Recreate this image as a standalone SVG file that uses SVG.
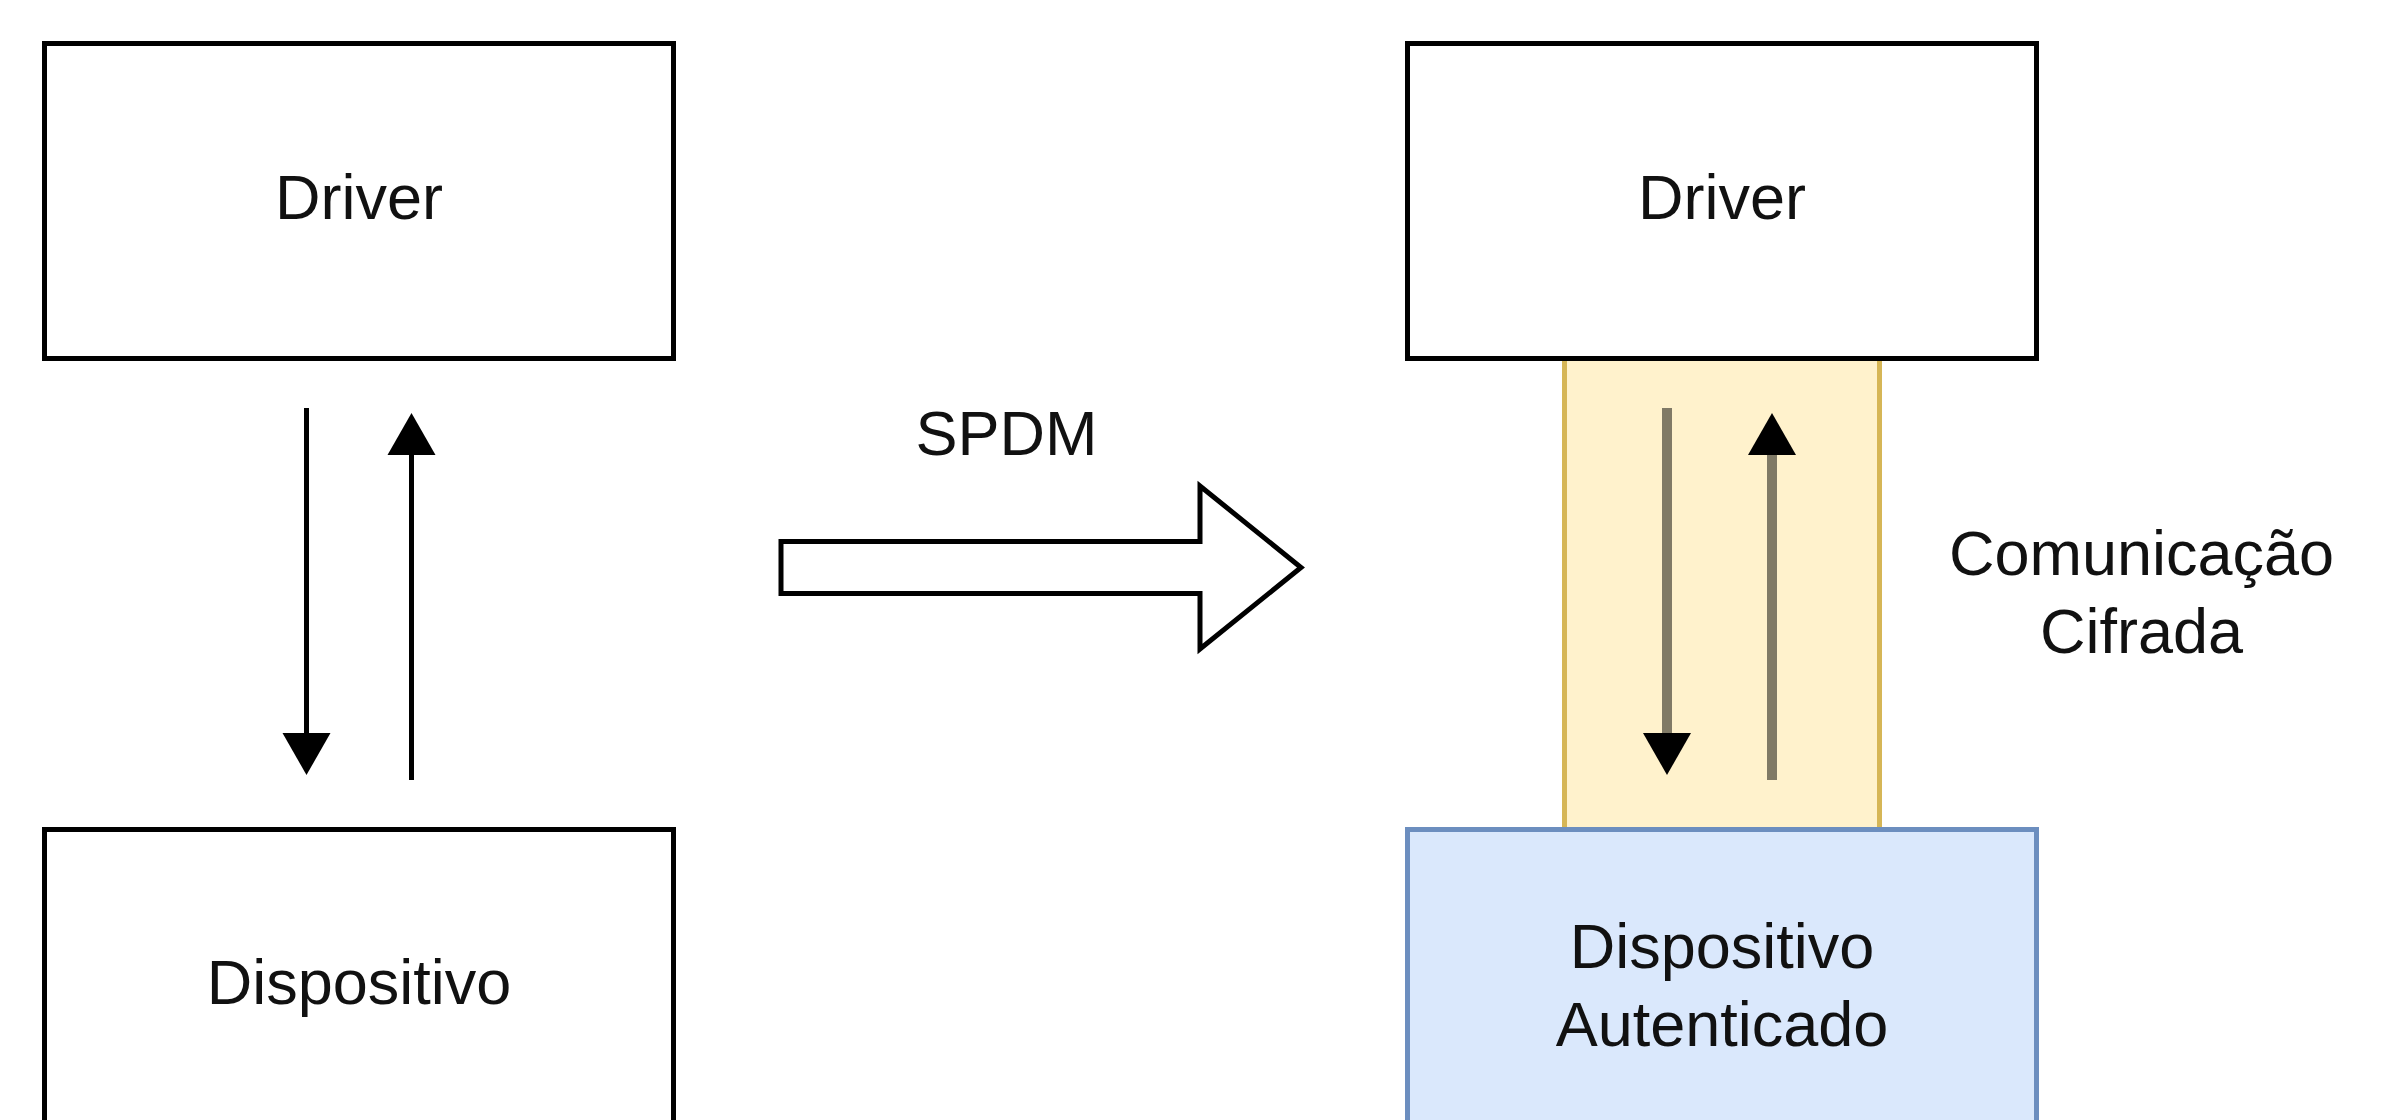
<svg xmlns="http://www.w3.org/2000/svg" width="2384" height="1120" viewBox="0 0 2384 1120">
  <style>
    .box { fill: #ffffff; stroke: #000000; stroke-width: 5; }
    .band { fill: #fff2cc; stroke: #d6b656; stroke-width: 5; }
    .auth { fill: #dae8fc; stroke: #6c8ebf; stroke-width: 5; }
    .lbl { font-family: "Liberation Sans", Arial, sans-serif; font-size: 63px; fill: #111111; text-anchor: middle; }
    .link { fill: none; stroke: #000000; stroke-width: 5; }
    .link.enc { stroke: #807a66; stroke-width: 10; }
    .big { fill: #ffffff; stroke: #000000; stroke-width: 5; stroke-linejoin: miter; }
  </style>
  <defs>
    <marker id="head" viewBox="0 -26 42 52" refX="1" refY="0" markerWidth="42" markerHeight="52" markerUnits="userSpaceOnUse" orient="auto">
      <path d="M0,-24 L42,0 L0,24 Z" fill="#000000"/>
    </marker>
  </defs>

  <!-- encrypted channel background between the right-hand nodes -->
  <g id="canal-cifrado">
    <rect class="band" x="1564.5" y="358.5" width="315" height="471"/>
  </g>

  <!-- left side: plain driver/device -->
  <g id="driver-esq">
    <rect class="box" x="44.5" y="43.5" width="629" height="315"/>
    <text class="lbl" x="359" y="219">Driver</text>
  </g>
  <g id="dispositivo-esq">
    <rect class="box" x="44.5" y="829.5" width="629" height="315"/>
    <text class="lbl" x="359" y="1004">Dispositivo</text>
  </g>

  <!-- right side: driver and authenticated device -->
  <g id="driver-dir">
    <rect class="box" x="1407.5" y="43.5" width="629" height="315"/>
    <text class="lbl" x="1722" y="219">Driver</text>
  </g>
  <g id="dispositivo-autenticado">
    <rect class="auth" x="1407.5" y="829.5" width="629" height="315"/>
    <text class="lbl" x="1722" y="968">Dispositivo</text>
    <text class="lbl" x="1722" y="1046">Autenticado</text>
  </g>

  <!-- SPDM transition arrow -->
  <g id="spdm">
    <polygon class="big" points="781,541.5 1200,541.5 1200,486 1301,567.5 1200,649 1200,593.5 781,593.5"/>
    <text class="lbl" x="1006.5" y="455">SPDM</text>
  </g>

  <g id="rotulo-canal">
    <text class="lbl" x="2141.5" y="575">Comunicação</text>
    <text class="lbl" x="2141.5" y="653">Cifrada</text>
  </g>

  <!-- request/response connectors -->
  <g id="connectors">
    <line class="link" x1="306.5" y1="408" x2="306.5" y2="734" marker-end="url(#head)"/>
    <line class="link" x1="411.5" y1="780" x2="411.5" y2="454" marker-end="url(#head)"/>
    <line class="link enc" x1="1667" y1="408" x2="1667" y2="734" marker-end="url(#head)"/>
    <line class="link enc" x1="1772" y1="780" x2="1772" y2="454" marker-end="url(#head)"/>
  </g>
</svg>
